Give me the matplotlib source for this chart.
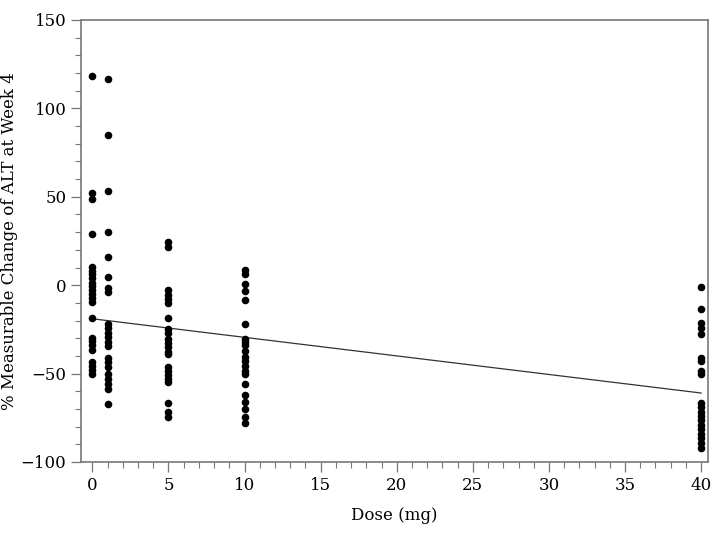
import numpy as np
import matplotlib.pyplot as plt
from matplotlib.ticker import MultipleLocator

# % change of ALT at week 4 by dose group
chg_0 = [118.4, 52.1, 48.7, 29.0, 10.4, 8.1, 6.1, 3.8, 1.5, -0.6, -2.8, -5.1, -7.2,
         -9.5, -18.4, -29.7, -31.6, -34.0, -36.4, -43.2, -45.5, -47.7, -50.0]
chg_1 = [116.5, 84.7, 53.0, 30.3, 15.7, 4.7, -1.5, -3.8, -22.0, -24.5, -27.0, -29.5,
         -32.0, -34.5, -41.0, -43.5, -46.0, -50.0, -53.0, -56.0, -58.5, -67.0]
chg_5 = [24.6, 21.8, -2.8, -5.3, -7.6, -10.0, -18.4, -25.0, -27.1, -30.3, -32.8, -35.0,
         -37.9, -39.2, -46.4, -48.3, -50.6, -53.0, -54.9, -66.9, -72.0, -74.4]
chg_10 = [8.5, 6.5, 0.4, -3.4, -8.5, -21.8, -30.3, -32.2, -34.1, -37.3, -40.7, -43.0,
          -45.5, -48.3, -50.2, -55.9, -61.9, -66.3, -70.1, -74.8, -78.2]
chg_40 = [-1.0, -13.6, -21.2, -24.5, -27.5, -41.0, -43.0, -48.3, -50.5, -66.5, -69.0,
          -71.5, -74.0, -76.5, -79.0, -81.5, -84.0, -86.5, -89.5, -92.0]

# fitted line as shown in the figure
fit_icpt = -19.0
fit_slope = -1.05
fit_x = [0, 40]

groups = {0: chg_0, 1: chg_1, 5: chg_5, 10: chg_10, 40: chg_40}
dose = np.concatenate([[d] * len(v) for d, v in groups.items()])
chg = np.concatenate([v for v in groups.values()])
xl = np.array(fit_x)

plt.rcParams['font.family'] = 'DejaVu Serif'
fig = plt.figure(figsize=(7.14, 5.49), dpi=100)
ax = fig.add_axes([0.1134, 0.1585, 0.8782, 0.8051])

ax.scatter(dose, chg, s=30, color='black', zorder=3, linewidths=0)
ax.plot(xl, fit_icpt + fit_slope * xl, color='#333333', lw=0.9)

ax.set_xlim(-0.75, 40.45)
ax.set_ylim(-100, 150)
ax.xaxis.set_major_locator(MultipleLocator(5))
ax.xaxis.set_minor_locator(MultipleLocator(1))
ax.yaxis.set_major_locator(MultipleLocator(50))
ax.yaxis.set_minor_locator(MultipleLocator(10))
ax.tick_params(which='major', length=7, width=0.9, color='#777777', labelsize=12)
ax.tick_params(which='minor', length=4, width=0.8, color='#777777')
for sp in ax.spines.values():
    sp.set_color('#777777')
    sp.set_linewidth(1.2)

ax.set_xlabel('Dose (mg)', fontsize=12, labelpad=10)
ax.set_ylabel('% Measurable Change of ALT at Week 4', fontsize=12)
ax.yaxis.set_label_coords(-0.1, 0.5)

fig.savefig('out.png', dpi=100)
